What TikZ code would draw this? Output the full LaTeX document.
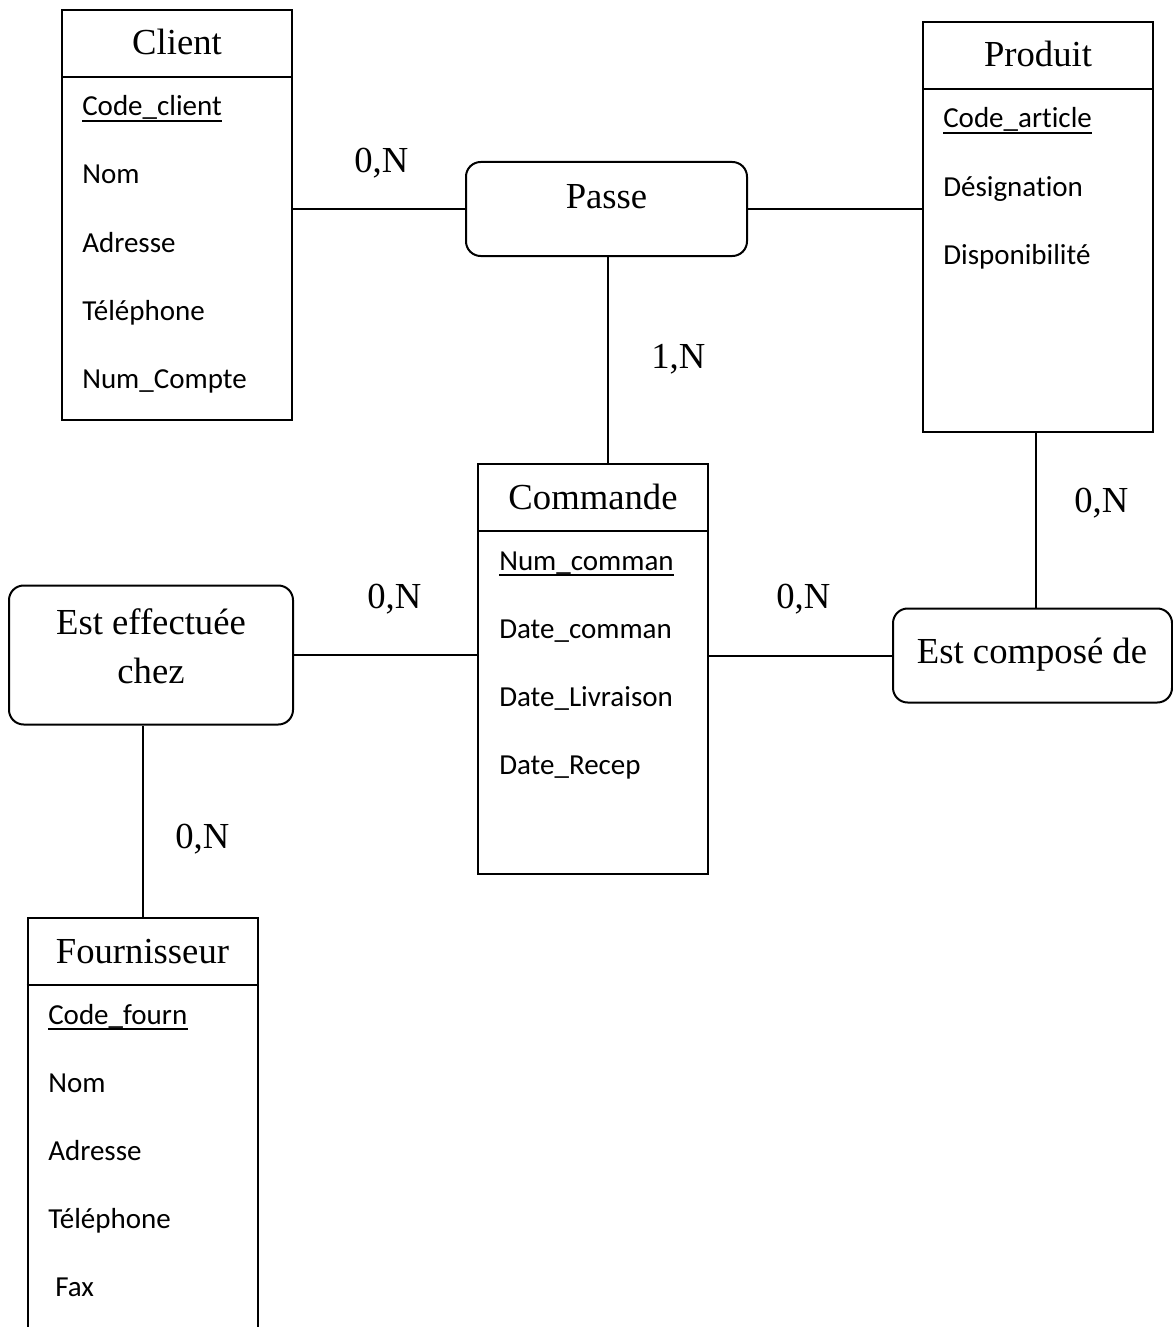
\documentclass[tikz,border=0pt]{standalone}
\usepackage{fontspec}
\setmainfont{Liberation Serif}
\newfontfamily\attrfont[Ligatures={NoCommon,NoRequired,NoContextual}]{Carlito}
\begin{document}
\begin{tikzpicture}[x=0.75pt,y=-0.75pt,
  entity/.style={draw, line width=1.5pt, inner sep=0pt, minimum width=172.5pt, minimum height=307.5pt},
  relation/.style={draw, line width=1.5pt, rounded corners=11pt, inner sep=0pt},
  title/.style={font=\fontsize{27.5}{33}\selectfont, inner sep=0pt, anchor=base},
  attr/.style={font=\attrfont\fontsize{21.75}{26}\selectfont, inner sep=0pt, anchor=base west},
  card/.style={font=\fontsize{27.5}{33}\selectfont, inner sep=0pt, anchor=base west},
  link/.style={line width=1.5pt},
  keyline/.style={line width=1.5pt}]
\useasboundingbox (0,0) rectangle (1173,1327);
\clip (0,0) rectangle (1173,1327);

% ---------- entities ----------
\node[entity] (client) at (177,215) {};
\node[entity] (produit) at (1038,227) {};
\node[entity] (commande) at (593,669) {};
\node[entity] (fourn) at (142.5,1123) {};

\foreach \e in {client,produit,commande,fourn}{
  \draw[link] ([yshift=-51pt]\e.north west) -- ([yshift=-51pt]\e.north east);
}

% titles
\node[title] (tclient) at (177,55) {Client};
\node[title] (tproduit) at (1038,67) {Produit};
\node[title] (tcommande) at (593,509) {Commande};
\node[title] (tfourn) at (142.5,963) {Fournisseur};

% Client attributes
\node[attr] (c1) at (82,116) {Code\_client};
\node[attr] (c2) at (82,184) {Nom};
\node[attr] (c3) at (82,252) {Adresse};
\node[attr] (c4) at (82,320) {Téléphone};
\node[attr] (c5) at (82,388) {Num\_Compte};

% Produit attributes
\node[attr] (p1) at (943,128) {Code\_article};
\node[attr] (p2) at (943,196) {Désignation};
\node[attr] (p3) at (943,264) {Disponibilité};

% Commande attributes
\node[attr] (m1) at (499,570) {Num\_comman};
\node[attr] (m2) at (499,638) {Date\_comman};
\node[attr] (m3) at (499,706) {Date\_Livraison};
\node[attr] (m4) at (499,774) {Date\_Recep};

% Fournisseur attributes
\node[attr] (f1) at (48,1024) {Code\_fourn};
\node[attr] (f2) at (48,1092) {Nom};
\node[attr] (f3) at (48,1160) {Adresse};
\node[attr] (f4) at (48,1228) {Téléphone};
\node[attr] (f5) at (55,1296) {Fax};

% key underlines
\foreach \k in {c1,p1,m1,f1}{
  \draw[keyline] ([yshift=-3.75pt]\k.base west) -- ([yshift=-3.75pt]\k.base east);
}

% ---------- relations ----------
\node[relation, minimum width=210.75pt, minimum height=70.5pt] (passe) at (606.5,209) {};
\node[title] (tpasse) at (606.5,209) {Passe};

\node[relation, minimum width=213pt, minimum height=104.25pt] (effect) at (151,655) {};
\node[title] (teffect1) at (151,634) {Est effectuée};
\node[title] (teffect2) at (151,683) {chez};

\node[relation, minimum width=209.25pt, minimum height=70.5pt] (compose) at (1032.5,655.5) {};
\node[title] (tcompose) at (1032,663) {Est composé de};

% ---------- connectors ----------
\draw[link] (client.east |- passe.west) -- (passe.west);
\draw[link] (passe.east) -- (passe.east -| produit.west);
\draw[link] ([xshift=0.75pt]passe.south) -- ([xshift=0.75pt]passe.south |- commande.north);
\draw[link] (effect.east) -- (effect.east -| commande.west);
\draw[link] (compose.west -| commande.east) -- (compose.west);
\draw[link] ([xshift=-1.5pt]produit.south) -- ([xshift=-1.5pt]produit.south |- compose.north);
\draw[link] (fourn.north) -- (fourn.north |- effect.south);

% ---------- cardinalities ----------
\node[card] (k1) at (354,173) {0,N};
\node[card] (k2) at (651,368) {1,N};
\node[card] (k3) at (367,608) {0,N};
\node[card] (k4) at (776,608) {0,N};
\node[card] (k5) at (1074,512) {0,N};
\node[card] (k6) at (175,848) {0,N};
\end{tikzpicture}
\end{document}
